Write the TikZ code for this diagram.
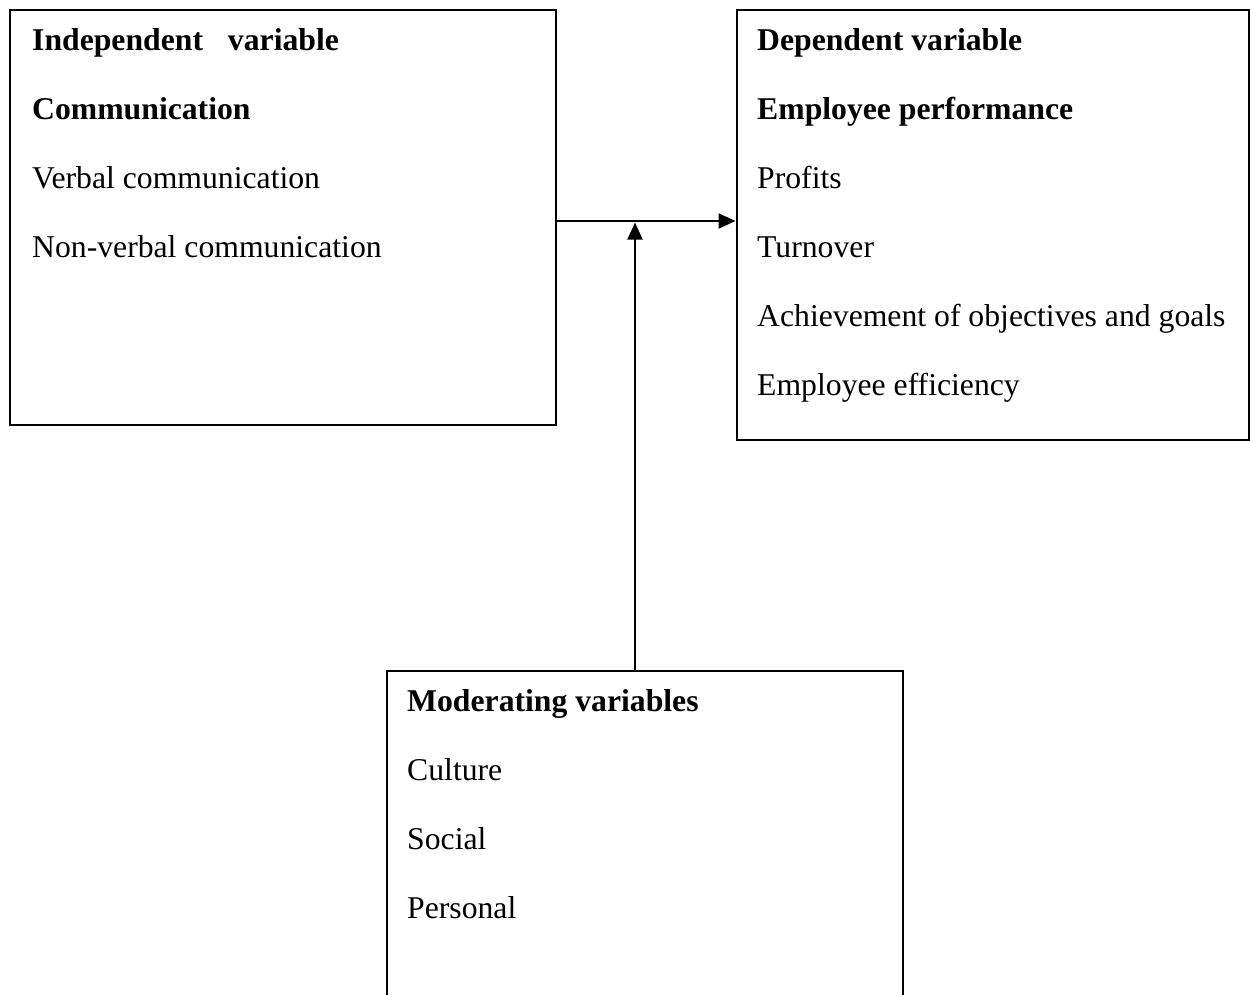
\documentclass[tikz,border=0pt]{standalone}
\usepackage{fontspec}
\setmainfont{Liberation Serif}
\usetikzlibrary{arrows.meta}
\begin{document}
\begin{tikzpicture}[x=1pt,y=-1pt,
  box/.style={draw=black,line width=2pt,rectangle,inner sep=0pt},
  txt/.style={anchor=base west,inner sep=0pt,font=\fontsize{31.7}{38}\selectfont},
  bold/.style={txt,font=\fontsize{31.7}{38}\selectfont\bfseries},
  arr/.style={line width=2pt,-{Triangle[length=17pt,width=15pt]}}]
\useasboundingbox (0,0) rectangle (1250,994);
\clip (0,0) rectangle (1250,994);
\fill[white] (0,0) rectangle (1250,994);
% boxes
\node[box,minimum width=546.5pt,minimum height=415.5pt] (ind) at (282.75,217.25) {};
\node[box,minimum width=512pt,minimum height=430pt] (dep) at (992.5,225) {};
\node[box,minimum width=516.5pt,minimum height=339pt] (mod) at (644.75,840.5) {};
% left texts
\node[bold] (i1) at (32,50) {Independent\hspace{17pt} variable};
\node[bold] (i2) at (32,119) {Communication};
\node[txt] (i3) at (32,188) {Verbal communication};
\node[txt] (i4) at (32,257) {Non-verbal communication};
% right texts
\node[bold] (d1) at (757,50) {Dependent variable};
\node[bold] (d2) at (757,119) {Employee performance};
\node[txt] (d3) at (757,188) {Profits};
\node[txt] (d4) at (757,257) {Turnover};
\node[txt] (d5) at (757,326) {Achievement of objectives and goals};
\node[txt] (d6) at (757,395) {Employee efficiency};
% bottom texts
\node[bold] (m1) at (407,711) {Moderating variables};
\node[txt] (m2) at (407,780) {Culture};
\node[txt] (m3) at (407,849) {Social};
\node[txt] (m4) at (407,918) {Personal};
% connectors
\coordinate (h) at (635,221);
\coordinate (j) at (635,222.5);
\draw[arr] (ind.east |- h) -- (dep.west |- h);
\draw[arr] (mod.north -| j) -- (j);
\end{tikzpicture}
\end{document}
